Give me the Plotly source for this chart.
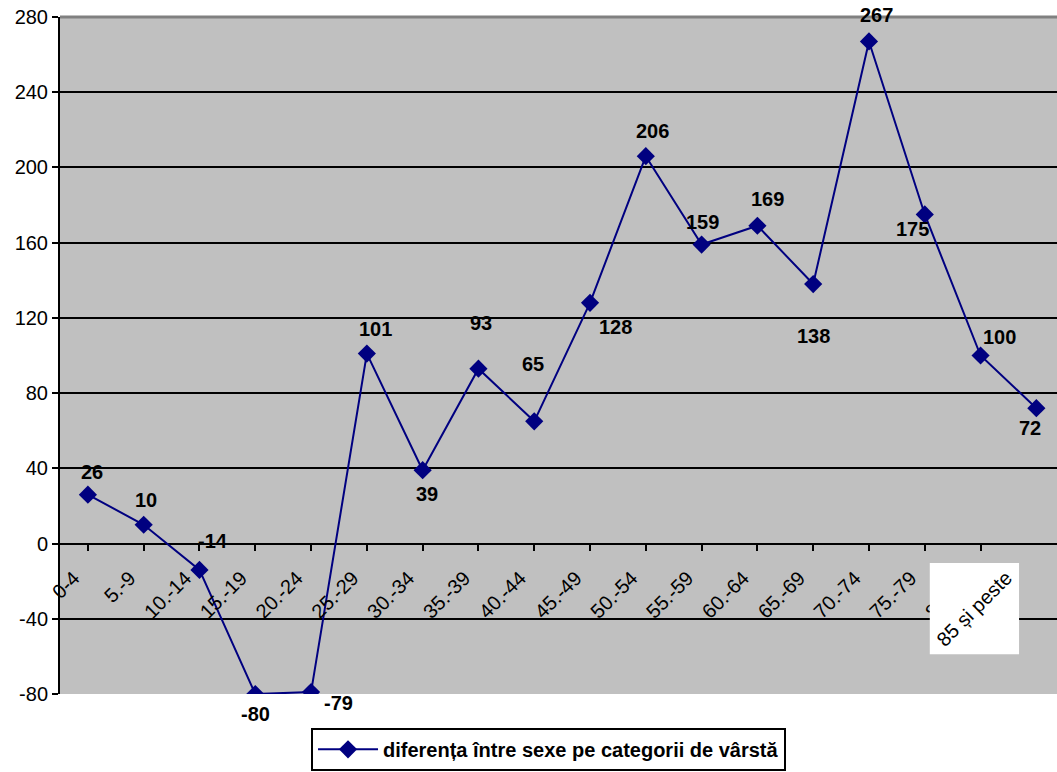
import plotly.graph_objects as go

categories = ["0-4", "5.-9", "10.-14", "15.-19", "20.-24", "25.-29", "30.-34", "35.-39",
              "40.-44", "45.-49", "50.-54", "55.-59", "60.-64", "65.-69", "70.-74",
              "75.-79", "80.-84", "85 și peste"]
values = [26, 10, -14, -80, -79, 101, 39, 93, 65, 128, 206, 159, 169, 138, 267, 175, 100, 72]
series_name = "diferența între sexe pe categorii de vârstă"
y_ticks = [-80, -40, 0, 40, 80, 120, 160, 200, 240, 280]

# label offsets in pixels (style only)
label_dx = [4, 2, 14, 0, 27, 9, 4, 3, -1, 25, 7, 1, 10, 0, 8, -12, 19, -6]
label_dy = [-23, -25, -29, 20, 11, -25, 24, -46, -57, 24, -25, -23, -27, 52, -26, 15, -19, 20]

FONT = "Liberation Sans, Arial, sans-serif"
xs = list(range(len(categories)))

fig = go.Figure()
fig.add_trace(go.Scatter(
    x=xs, y=values, mode="lines+markers", name=series_name,
    line=dict(color="#000080", width=2),
    marker=dict(symbol="diamond", size=14, color="#000080"),
))

for i, v in enumerate(values):
    fig.add_annotation(x=xs[i], y=v, text=f"<b>{v}</b>", showarrow=False,
                       xshift=label_dx[i], yshift=-label_dy[i],
                       font=dict(family=FONT, size=20, color="black"))

# category labels: the last one sits in a white box
last = len(categories) - 1
fig.add_shape(type="rect", xref="x", yref="y", x0=15.09, x1=16.69, y0=-58.8, y1=-10.3,
              fillcolor="white", line=dict(width=0), layer="above")
fig.add_annotation(x=15.9, y=-34.5, text=categories[last], textangle=-45, showarrow=False,
                   font=dict(family=FONT, size=20, color="black"))

fig.update_layout(
    width=1057, height=772,
    margin=dict(l=60, r=0, t=17, b=78),
    paper_bgcolor="white", plot_bgcolor="#C0C0C0",
    font=dict(family=FONT, size=20, color="black"),
    showlegend=True,
    legend=dict(orientation="h", x=0.49, xanchor="center", y=-0.05, yanchor="top",
                bordercolor="black", borderwidth=2, bgcolor="white", itemwidth=60,
                font=dict(family=FONT, size=20, color="black", weight="bold")),
    xaxis=dict(range=[-0.5, 17.37], tickmode="array", tickvals=xs[:last],
               ticktext=categories[:last], tickangle=-45,
               anchor="free", position=80 / 360, showgrid=False, zeroline=False,
               showline=False, ticks="outside", tickson="boundaries", ticklen=6,
               tickwidth=2, tickcolor="black", ticklabelstandoff=8, ticklabelshift=-14,
               tickfont=dict(family=FONT, size=20, color="black")),
    yaxis=dict(range=[-80, 280], tickmode="array", tickvals=y_ticks,
               ticktext=[str(t) for t in y_ticks],
               showgrid=True, gridcolor="black", gridwidth=2, zeroline=True,
               zerolinecolor="black", zerolinewidth=2, showline=True, linecolor="black",
               linewidth=2, ticks="outside", ticklen=6, tickwidth=2, tickcolor="black",
               tickfont=dict(family=FONT, size=20, color="black")),
)
# grey top border
fig.add_shape(type="line", xref="paper", yref="paper", x0=0, x1=1, y0=1, y1=1,
              line=dict(color="#808080", width=3), layer="above")

fig.write_html("out.html", config={"displayModeBar": False},
               post_script="document.body.style.margin='0';")
